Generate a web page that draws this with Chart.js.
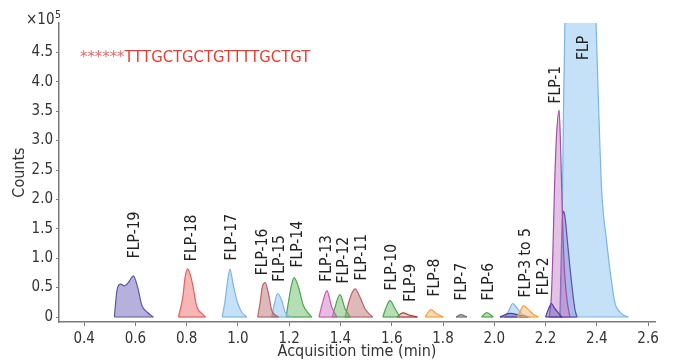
<!DOCTYPE html>
<html>
<head>
<meta charset="utf-8">
<title>FLP chromatogram</title>
<script src="https://cdn.jsdelivr.net/npm/chart.js@4.4.1/dist/chart.umd.min.js"></script>
<style>
  html, body { margin: 0; padding: 0; background: #fff; }
  #chart { display: block; }
</style>
</head>
<body>
<canvas id="chart" width="674" height="362"></canvas>
<script>
// ============================================================
// Data (time in min, counts in 1e5)
// ============================================================
const flpTime   = [2.256, 2.262, 2.266, 2.270, 2.274, 2.278, 2.300, 2.350, 2.390, 2.397, 2.405, 2.419, 2.438, 2.455, 2.471, 2.490, 2.505, 2.523];
const flpCount  = [0, 0.6, 2.0, 3.5, 4.6, 5.4, 5.8, 5.8, 5.6, 5.0, 3.86, 2.15, 1.30, 0.68, 0.23, 0.085, 0.03, 0];

const shoulderTime  = [2.256, 2.261, 2.265, 2.269, 2.276, 2.285, 2.294, 2.305, 2.315, 2.323];
const shoulderCount = [0, 1.0, 1.6, 1.8, 1.7, 1.3, 0.9, 0.45, 0.12, 0];

const flp1Time  = [2.214, 2.222, 2.228, 2.235, 2.243, 2.253, 2.258, 2.263, 2.268, 2.275, 2.285, 2.295];
const flp1Count = [0, 0.3, 1.0, 2.2, 3.1, 3.52, 3.0, 2.2, 1.4, 0.7, 0.25, 0];

const flp2Time  = [2.200, 2.212, 2.223, 2.235, 2.250, 2.264];
const flp2Count = [0, 0.14, 0.23, 0.15, 0.07, 0];

const flp3to5BlueTime    = [2.042, 2.058, 2.072, 2.089, 2.108, 2.139];
const flp3to5BlueCount   = [0, 0.12, 0.23, 0.15, 0.05, 0];
const flp3to5VioletTime  = [2.022, 2.061, 2.100, 2.131];
const flp3to5VioletCount = [0, 0.06, 0.03, 0];
const flp3to5OrangeTime  = [2.090, 2.101, 2.114, 2.132, 2.151, 2.172];
const flp3to5OrangeCount = [0, 0.10, 0.19, 0.13, 0.05, 0];

const flp6Time   = [1.951, 1.970, 1.996];
const flp6Count  = [0, 0.075, 0];
const flp7Time   = [1.851, 1.870, 1.893];
const flp7Count  = [0, 0.04, 0];
const flp8Time   = [1.730, 1.742, 1.753, 1.773, 1.801];
const flp8Count  = [0, 0.08, 0.125, 0.06, 0];
const flp9Time   = [1.620, 1.643, 1.671, 1.700];
const flp9Count  = [0, 0.07, 0.03, 0];
const flp10Time  = [1.565, 1.578, 1.593, 1.613, 1.632];
const flp10Count = [0, 0.16, 0.28, 0.14, 0];
const flp11Time  = [1.418, 1.431, 1.444, 1.457, 1.476, 1.496, 1.515, 1.526];
const flp11Count = [0, 0.23, 0.40, 0.48, 0.34, 0.14, 0.04, 0];
const flp12Time  = [1.368, 1.379, 1.398, 1.418, 1.438];
const flp12Count = [0, 0.17, 0.38, 0.14, 0];
const flp13Time  = [1.316, 1.330, 1.347, 1.366, 1.386];
const flp13Count = [0, 0.24, 0.45, 0.17, 0];
const flp14Time  = [1.188, 1.198, 1.209, 1.219, 1.236, 1.255, 1.275, 1.288];
const flp14Count = [0, 0.28, 0.54, 0.67, 0.51, 0.20, 0.06, 0];
const flp15Time  = [1.132, 1.141, 1.155, 1.171, 1.184, 1.203];
const flp15Count = [0, 0.20, 0.40, 0.28, 0.085, 0];
const flp16Time  = [1.077, 1.086, 1.095, 1.106, 1.119, 1.132, 1.158];
const flp16Count = [0, 0.23, 0.51, 0.585, 0.40, 0.11, 0];
const flp17Time  = [0.939, 0.950, 0.960, 0.969, 0.982, 0.998, 1.015, 1.035];
const flp17Count = [0, 0.28, 0.62, 0.81, 0.54, 0.25, 0.08, 0];
const flp18Time  = [0.768, 0.785, 0.794, 0.804, 0.820, 0.840, 0.859, 0.874];
const flp18Count = [0, 0.34, 0.68, 0.82, 0.62, 0.17, 0.06, 0];
const flp19Time  = [0.518, 0.522, 0.528, 0.543, 0.556, 0.575, 0.592, 0.608, 0.625, 0.645, 0.670];
const flp19Count = [0, 0.2, 0.45, 0.56, 0.53, 0.60, 0.70, 0.52, 0.20, 0.085, 0];

const peakNames = ['FLP-19', 'FLP-18', 'FLP-17', 'FLP-16', 'FLP-15', 'FLP-14', 'FLP-13', 'FLP-12', 'FLP-11',
                   'FLP-10', 'FLP-9', 'FLP-8', 'FLP-7', 'FLP-6', 'FLP-3 to 5', 'FLP-2', 'FLP-1', 'FLP'];

const xTicks = [0.4, 0.6, 0.8, 1.0, 1.2, 1.4, 1.6, 1.8, 2.0, 2.2, 2.4, 2.6];
const yTicks = [0, 0.5, 1.0, 1.5, 2.0, 2.5, 3.0, 3.5, 4.0, 4.5];

const sequenceMark = '******';
const sequenceText = 'TTTGCTGCTGTTTTGCTGT';

// ============================================================
// Layout / styles (kept apart from the data)
// ============================================================
const FONT = '"DejaVu Sans Condensed", "DejaVu Sans", sans-serif';
const TEXT = '#333333';

// where each peak name starts (time, counts) - same order as peakNames
const labelAnchors = [
    [0.592, 1.00], [0.814, 0.95], [0.970, 0.96], [1.093, 0.71], [1.158, 0.60], [1.230, 0.84],
    [1.340, 0.60], [1.409, 0.57], [1.477, 0.62], [1.594, 0.45], [1.668, 0.26], [1.763, 0.35],
    [1.867, 0.28], [1.974, 0.28], [2.117, 0.33], [2.189, 0.37], [2.234, 3.63], [2.342, 4.37]
];
const sequenceAnchor = [0.384, 4.34];

const palette = {
    blue:   { line: '#7db4e8', fill: 'rgba(140,195,240,0.5)' },
    violet: { line: '#4b3e9e', fill: 'rgba(110,95,190,0.5)' },
    lilac:  { line: '#5a4fb0', fill: 'rgba(120,110,200,0.35)' },
    orchid: { line: '#a24fa8', fill: 'rgba(200,135,200,0.5)' },
    indigo: { line: '#5b58a8', fill: 'rgba(110,100,185,0.5)' },
    red:    { line: '#ef5a5a', fill: 'rgba(240,110,110,0.5)' },
    rose:   { line: '#b86565', fill: 'rgba(185,100,100,0.45)' },
    green:  { line: '#4aa84a', fill: 'rgba(110,190,110,0.5)' },
    pink:   { line: '#c85ab4', fill: 'rgba(210,120,195,0.5)' },
    maroon: { line: '#b03030', fill: 'rgba(200,90,90,0.3)' },
    orange: { line: '#f5a040', fill: 'rgba(250,185,110,0.5)' },
    grey:   { line: '#707070', fill: 'rgba(150,150,150,0.5)' }
};

// back-to-front drawing order
const traces = [
    [flpTime, flpCount, 'blue'],
    [shoulderTime, shoulderCount, 'lilac'],
    [flp1Time, flp1Count, 'orchid'],
    [flp2Time, flp2Count, 'violet'],
    [flp3to5BlueTime, flp3to5BlueCount, 'blue'],
    [flp3to5VioletTime, flp3to5VioletCount, 'violet'],
    [flp3to5OrangeTime, flp3to5OrangeCount, 'orange'],
    [flp6Time, flp6Count, 'green'],
    [flp7Time, flp7Count, 'grey'],
    [flp8Time, flp8Count, 'orange'],
    [flp9Time, flp9Count, 'maroon'],
    [flp10Time, flp10Count, 'green'],
    [flp11Time, flp11Count, 'rose'],
    [flp12Time, flp12Count, 'green'],
    [flp13Time, flp13Count, 'pink'],
    [flp14Time, flp14Count, 'green'],
    [flp15Time, flp15Count, 'blue'],
    [flp16Time, flp16Count, 'rose'],
    [flp17Time, flp17Count, 'blue'],
    [flp18Time, flp18Count, 'red'],
    [flp19Time, flp19Count, 'indigo']
];

// ============================================================
// Plugins: peak baselines, peak names, header texts
// ============================================================
const baselinePlugin = {
    id: 'baseline',
    afterDatasetDraw(chart, args) {
        const ds = chart.data.datasets[args.index];
        const pts = ds.data;
        const { ctx, chartArea, scales } = chart;
        const y0 = scales.y.getPixelForValue(0);
        ctx.save();
        ctx.beginPath();
        ctx.rect(chartArea.left, chartArea.top, chartArea.width, chartArea.height);
        ctx.clip();
        ctx.strokeStyle = ds.borderColor;
        ctx.lineWidth = ds.borderWidth;
        ctx.beginPath();
        ctx.moveTo(scales.x.getPixelForValue(pts[0].x), y0);
        ctx.lineTo(scales.x.getPixelForValue(pts[pts.length - 1].x), y0);
        ctx.stroke();
        ctx.restore();
    }
};

const labelPlugin = {
    id: 'peakLabels',
    afterDatasetsDraw(chart) {
        const { ctx, scales } = chart;
        const size = 15.5;
        ctx.save();
        ctx.font = size + 'px ' + FONT;
        ctx.fillStyle = '#222222';
        ctx.textAlign = 'left';
        ctx.textBaseline = 'alphabetic';
        peakNames.forEach((name, i) => {
            const x = scales.x.getPixelForValue(labelAnchors[i][0]) + size * 0.36;
            const y = scales.y.getPixelForValue(labelAnchors[i][1]);
            ctx.save();
            ctx.translate(x, y);
            ctx.rotate(-Math.PI / 2);
            ctx.fillText(name, 0, 0);
            ctx.restore();
        });
        ctx.restore();
    }
};

const headerPlugin = {
    id: 'header',
    afterDraw(chart) {
        const { ctx, scales } = chart;
        ctx.save();
        ctx.textAlign = 'left';
        ctx.textBaseline = 'alphabetic';

        // axis multiplier
        ctx.fillStyle = TEXT;
        ctx.font = '15px ' + FONT;
        ctx.fillText('×10', 26, 23.5);
        const w = ctx.measureText('×10').width;
        ctx.font = '10.5px ' + FONT;
        ctx.fillText('5', 26 + w + 0.5, 18);

        // probe sequence
        let x = scales.x.getPixelForValue(sequenceAnchor[0]);
        const y = scales.y.getPixelForValue(sequenceAnchor[1]);
        ctx.font = '16.5px ' + FONT;
        ctx.fillStyle = '#f06464';
        ctx.fillText(sequenceMark, x, y);
        x += ctx.measureText(sequenceMark).width;
        ctx.fillStyle = '#ee3a2e';
        ctx.fillText(sequenceText, x, y);
        ctx.restore();
    }
};

// ============================================================
// Build the chart
// ============================================================
function buildDatasets() {
    return traces.map(([time, count, key], i) => ({
        data: time.map((t, j) => ({ x: t, y: count[j] })),
        borderColor: palette[key].line,
        backgroundColor: palette[key].fill,
        borderWidth: 1.2,
        fill: 'origin',
        pointRadius: 0,
        cubicInterpolationMode: 'monotone',
        order: traces.length - i
    }));
}

function createChart() {
    const ctx = document.getElementById('chart').getContext('2d');
    Chart.defaults.font.family = FONT;
    Chart.defaults.color = TEXT;

    new Chart(ctx, {
        type: 'line',
        data: { datasets: buildDatasets() },
        options: {
            responsive: false,
            animation: false,
            devicePixelRatio: 1,
            layout: { padding: { left: 0, right: 19, top: 23, bottom: 0 } },
            plugins: { legend: { display: false }, tooltip: { enabled: false } },
            scales: {
                x: {
                    type: 'linear',
                    min: 0.302,
                    max: 2.627,
                    afterFit: s => { s.height = 40; },
                    afterBuildTicks: s => { s.ticks = xTicks.map(v => ({ value: v })); },
                    border: { color: '#7a7a7a', width: 1.5 },
                    grid: { drawOnChartArea: false, tickLength: 4, color: '#7a7a7a' },
                    ticks: { padding: 4, color: TEXT, font: { size: 15 }, maxRotation: 0, callback: v => v.toFixed(1) },
                    title: { display: true, text: 'Acquisition time (min)', color: TEXT, font: { size: 16 }, padding: { top: 0, bottom: 1 } }
                },
                y: {
                    type: 'linear',
                    min: -0.085,
                    max: 5.0,
                    afterFit: s => { s.width = 59; },
                    afterBuildTicks: s => { s.ticks = yTicks.map(v => ({ value: v })); },
                    border: { color: '#7a7a7a', width: 1.5 },
                    grid: { drawOnChartArea: false, tickLength: 3, color: '#7a7a7a' },
                    ticks: { padding: 3, color: TEXT, font: { size: 15 }, callback: v => (v === 0 ? '0' : v.toFixed(1)) },
                    title: { display: true, text: 'Counts', color: TEXT, font: { size: 16 }, padding: { top: 10, bottom: 0 } }
                }
            }
        },
        plugins: [baselinePlugin, labelPlugin, headerPlugin]
    });
}

document.addEventListener('DOMContentLoaded', createChart);
</script>
</body>
</html>
